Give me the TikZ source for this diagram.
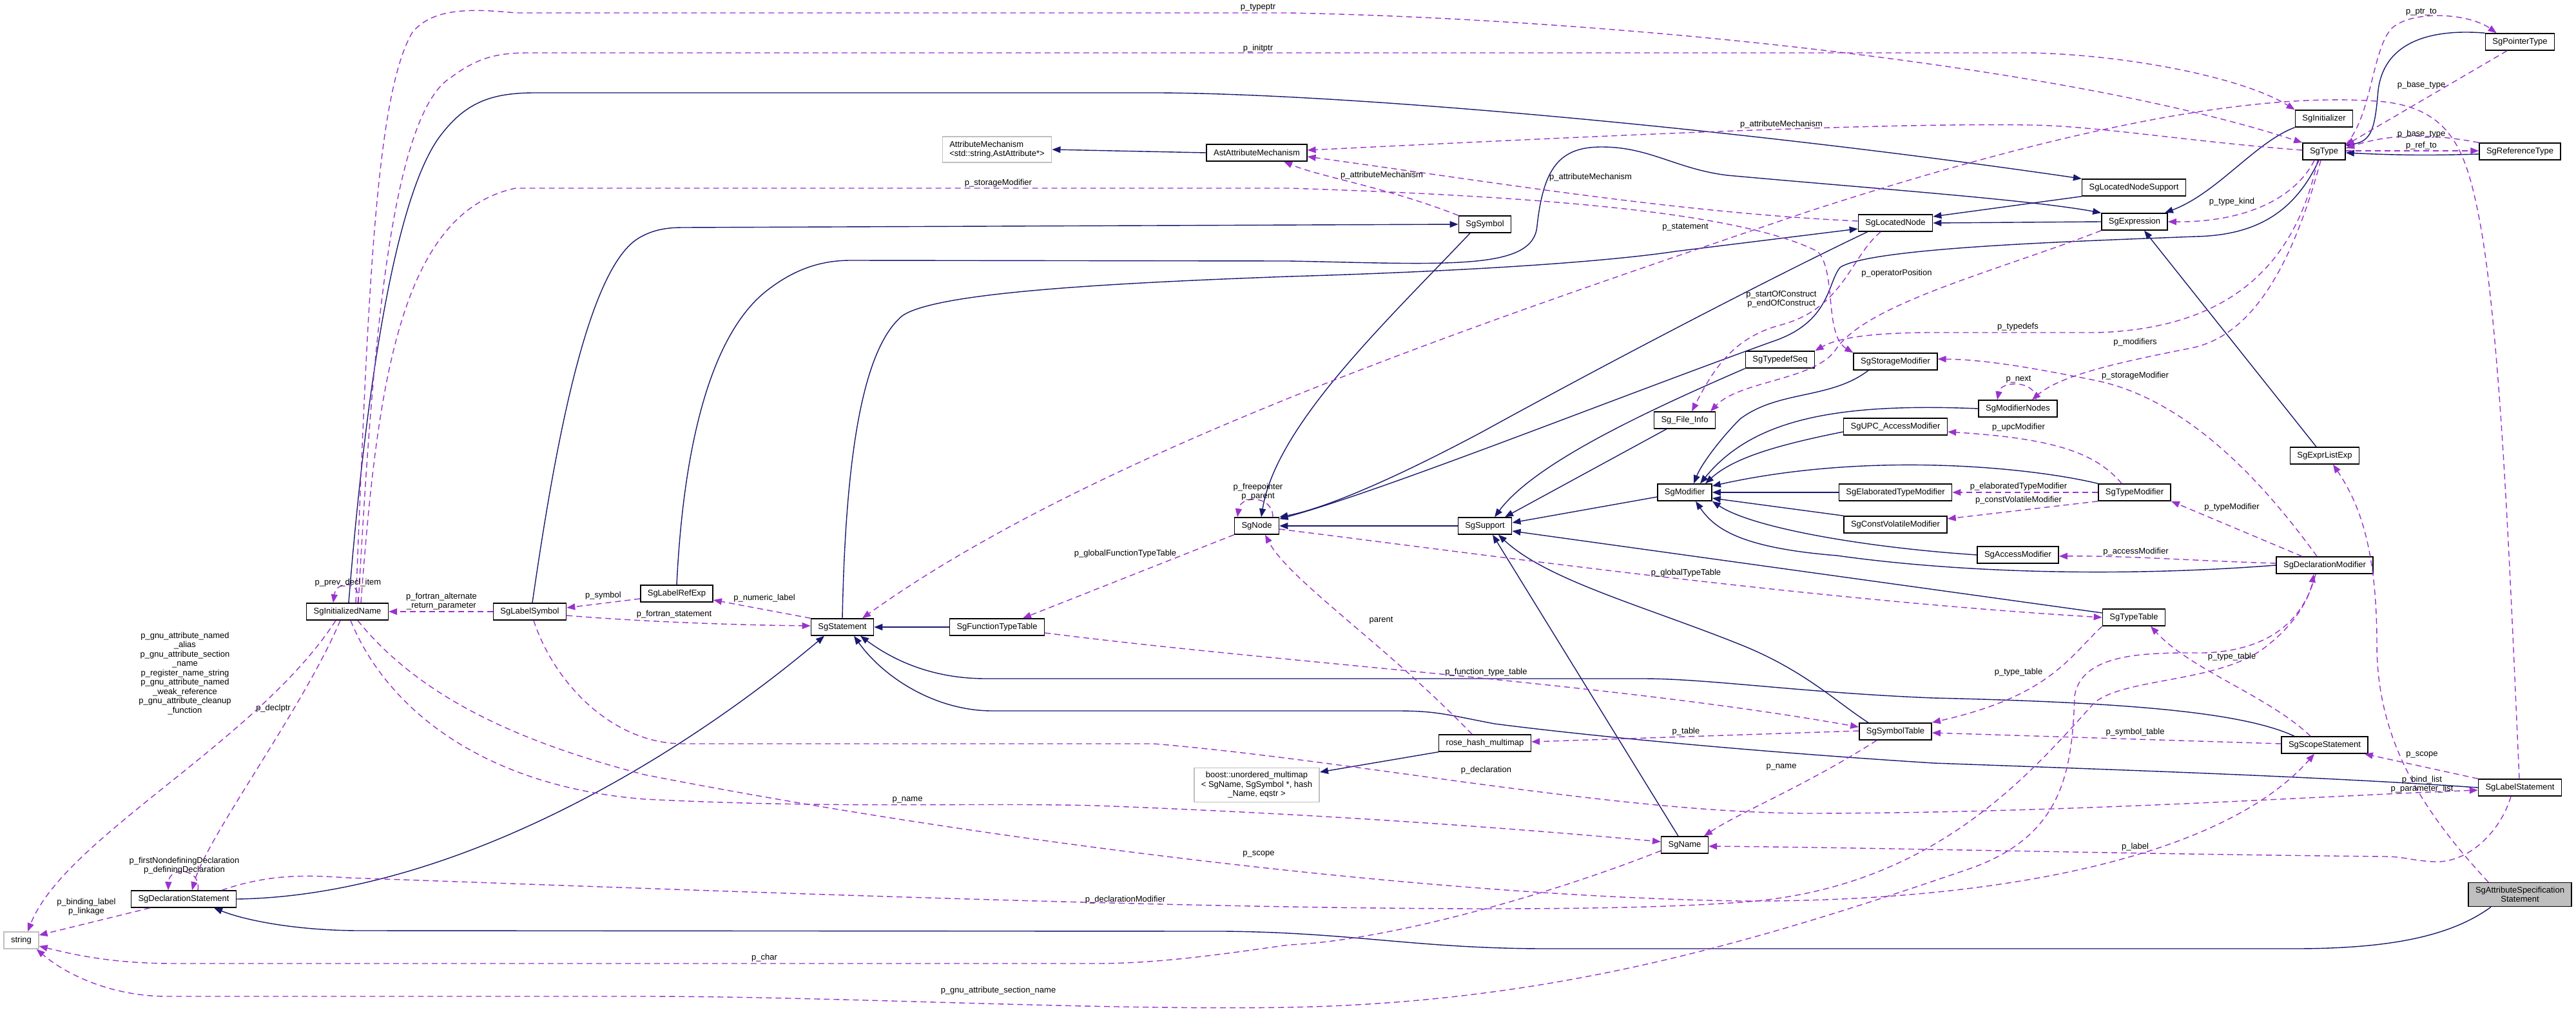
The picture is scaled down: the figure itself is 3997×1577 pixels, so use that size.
\documentclass[tikz,border=0pt]{standalone}
\usepackage{fontspec}
\setmainfont{Liberation Sans}
\usetikzlibrary{arrows.meta}
\definecolor{inhc}{HTML}{191970}
\definecolor{usec}{HTML}{9A32CD}
\definecolor{extgray}{HTML}{BFBFBF}
\newcommand\dfont{\fontsize{13pt}{14.5pt}\selectfont}
\tikzset{
 cls/.style={draw=black, line width=1.5pt, fill=white, minimum height=26pt, inner xsep=11pt, inner ysep=3pt, font=\dfont, align=center},
 extcls/.style={cls, draw=extgray},
 maincls/.style={cls, fill=extgray},
 inhe/.style={draw=inhc, line width=1.4pt, -{Triangle[length=13pt,width=10pt]}},
 usee/.style={draw=usec, line width=1.4pt, dash pattern=on 9pt off 6pt, -{Triangle[length=13pt,width=10pt]}},
 elab/.style={font=\dfont, align=center, inner sep=0pt, text=black},
}
\begin{document}
\begin{tikzpicture}[x=1pt,y=-1pt]
\useasboundingbox (0,0) rectangle (3997,1577);
\fill[white] (0,0) rectangle (3997,1577);
% nodes
\node[cls] (PT) at (3910,65) {SgPointerType};
\node[cls] (Ini) at (3606,184) {SgInitializer};
\node[cls] (Ty) at (3606,235) {SgType};
\node[cls] (RT) at (3910,235) {SgReferenceType};
\node[cls] (LNS) at (3311,291) {SgLocatedNodeSupport};
\node[cls] (Ex) at (3312,344) {SgExpression};
\node[extcls, align=left, inner ysep=6.5pt] (AM) at (1547,232) {AttributeMechanism\\<std::string,AstAttribute*>};
\node[cls] (AAM) at (1950,237) {AstAttributeMechanism};
\node[cls] (Sym) at (2304,348) {SgSymbol};
\node[cls] (LN) at (2941,346) {SgLocatedNode};
\node[cls] (TDS) at (2762,558) {SgTypedefSeq};
\node[cls] (SM) at (2941,561) {SgStorageModifier};
\node[cls] (FI) at (2614,652) {Sg\_File\_Info};
\node[cls] (UPC) at (2941,662) {SgUPC\_AccessModifier};
\node[cls] (MN) at (3131,634) {SgModifierNodes};
\node[cls] (Mod) at (2614,764) {SgModifier};
\node[cls] (ETM) at (2941,764) {SgElaboratedTypeModifier};
\node[cls] (TM) at (3312,764) {SgTypeModifier};
\node[cls] (CVM) at (2941,814) {SgConstVolatileModifier};
\node[cls] (Sup) at (2304,816) {SgSupport};
\node[cls] (Nd) at (1950,816) {SgNode};
\node[cls] (AccM) at (3131,861) {SgAccessModifier};
\node[cls] (DM) at (3607,877) {SgDeclarationModifier};
\node[cls] (ELE) at (3607,707) {SgExprListExp};
\node[cls] (TT) at (3311,958) {SgTypeTable};
\node[cls] (LRE) at (1050,921) {SgLabelRefExp};
\node[cls] (St) at (1307,973) {SgStatement};
\node[cls] (FTT) at (1547,973) {SgFunctionTypeTable};
\node[cls] (IN) at (539,949) {SgInitializedName};
\node[cls] (LS) at (822,949) {SgLabelSymbol};
\node[extcls] (Str) at (33,1459) {string};
\node[cls] (DS) at (285,1395) {SgDeclarationStatement};
\node[extcls, inner ysep=6pt] (BM) at (1950,1218) {boost::unordered\_multimap\\< SgName, SgSymbol *, hash\\\_Name, eqstr >};
\node[cls] (RHM) at (2304,1153) {rose\_hash\_multimap};
\node[cls] (SymT) at (2941,1135) {SgSymbolTable};
\node[cls] (Nm) at (2614,1311) {SgName};
\node[cls] (SS) at (3607,1156) {SgScopeStatement};
\node[cls] (LSt) at (3910,1222) {SgLabelStatement};
\node[maincls, inner ysep=6.5pt] (ASS) at (3910,1388) {SgAttributeSpecification\\Statement};

% inheritance
\draw[inhe] ([xshift=-45pt]ASS.south) .. controls (3800,1455) and (3700,1472) .. (3560,1472) -- (2400,1472) .. controls (2200,1472) and (2100,1447) .. (1900,1445) -- (560,1444) .. controls (460,1444) and (380,1428) .. ([xshift=47pt]DS.south);
\draw[inhe] (DS.east) .. controls (700,1390) and (1050,1180) .. ([xshift=-28pt]St.south);
\draw[inhe] ([xshift=-47pt]SS.north) .. controls (3480,1105) and (3300,1090) .. (3000,1083) .. controls (2800,1075) and (2650,1053) .. (2550,1053) -- (1530,1053) .. controls (1440,1053) and (1380,1020) .. ([xshift=28pt]St.south);
\draw[inhe] (LSt.west) .. controls (3600,1205) and (3300,1195) .. (3000,1184) .. controls (2700,1165) and (2450,1140) .. (2319,1123) .. controls (2250,1110) and (2230,1103) .. (2170,1103) -- (1540,1103) .. controls (1450,1103) and (1370,1050) .. ([xshift=18pt]St.south);
\draw[inhe] (FTT.west) -- (St.east);
\draw[inhe] (St.north) .. controls (1312,700) and (1340,540) .. (1400,490) .. controls (1450,455) and (1700,440) .. (2000,429) .. controls (2300,420) and (2500,405) .. (2600,390) -- ([yshift=-9pt]LN.west);
\draw[inhe] (LRE.north) .. controls (1060,700) and (1100,520) .. (1191,450) .. controls (1230,420) and (1270,404) .. (1320,404) -- (2000,405) .. controls (2250,410) and (2380,420) .. (2385,350) .. controls (2395,260) and (2420,228) .. (2485,228) .. controls (2560,228) and (2600,262) .. (2680,272) .. controls (2900,292) and (3150,310) .. (Ex.north west);
\draw[inhe] ([xshift=2pt]IN.north) .. controls (560,700) and (600,330) .. (680,215) .. controls (720,160) and (760,144) .. (830,144) -- (1800,144) .. controls (2100,146) and (2700,200) .. (LNS.north west);
\draw[inhe] ([xshift=4pt]LS.north) .. controls (860,700) and (910,420) .. (990,370) .. controls (1010,358) and (1030,353) .. (1060,353) -- (Sym.west);
\draw[inhe] ([xshift=-23pt]Sym.south) .. controls (2150,500) and (1980,660) .. ([xshift=7pt]Nd.north);
\draw[inhe] ([xshift=15pt]LN.south west) .. controls (2750,430) and (2500,560) .. (2300,670) .. controls (2150,750) and (2050,790) .. (Nd.north east);
\draw[inhe] ([xshift=-8pt]Ty.south) .. controls (3560,330) and (3500,365) .. (3407,367) .. controls (3200,375) and (2900,385) .. (2855,415) .. controls (2835,440) and (2840,500) .. (2750,530) .. controls (2500,620) and (2150,760) .. ([yshift=-3pt]Nd.north east);
\draw[inhe] (Sup.west) -- (Nd.east);
\draw[inhe] (LNS.south west) -- ([yshift=10pt]LN.east);
\draw[inhe] (Ex.west) -- (LN.east);
\draw[inhe] (Ini.south west) .. controls (3500,220) and (3440,300) .. ([xshift=-5pt]Ex.north east);
\draw[inhe] ([xshift=-13pt]ELE.north) -- ([xshift=15pt]Ex.south);
\draw[inhe] (PT.north west) .. controls (3780,45) and (3700,60) .. (3690,140) .. controls (3685,200) and (3680,218) .. ([yshift=9pt]Ty.east);
\draw[inhe] ([yshift=-4pt]RT.west) .. controls (3760,242) and (3700,240) .. ([yshift=-2pt]Ty.east);
\draw[inhe] (AAM.west) -- (AM.east);
\draw[inhe] (TDS.south west) .. controls (2550,640) and (2380,720) .. ([xshift=15pt]Sup.north);
\draw[inhe] ([xshift=20pt]FI.south west) -- ([xshift=31pt]Sup.north);
\draw[inhe] ([yshift=-7pt]Mod.west) -- ([yshift=5pt]Sup.east);
\draw[inhe] ([yshift=7pt]TT.west) -- ([yshift=-8pt]Sup.east);
\draw[inhe] ([xshift=-10pt]Nm.north) -- ([xshift=12pt]Sup.south);
\draw[inhe] ([xshift=-42pt]SymT.north) .. controls (2850,1090) and (2800,1040) .. (2700,1000) .. controls (2550,940) and (2400,900) .. ([xshift=21pt]Sup.south);
\draw[inhe] ([xshift=-42pt]SM.south) .. controls (2840,620) and (2760,605) .. (2700,650) .. controls (2670,680) and (2640,720) .. ([xshift=14pt]Mod.north);
\draw[inhe] (MN.west) .. controls (2850,625) and (2720,650) .. ([xshift=24pt]Mod.north);
\draw[inhe] ([yshift=-8pt]UPC.west) .. controls (2760,690) and (2690,710) .. ([xshift=32pt]Mod.north);
\draw[inhe] (TM.north west) .. controls (3150,725) and (2900,700) .. ([yshift=10pt]Mod.east);
\draw[inhe] (ETM.west) -- (Mod.east);
\draw[inhe] (CVM.north west) -- ([yshift=-9pt]Mod.east);
\draw[inhe] (AccM.west) .. controls (2900,850) and (2720,820) .. (Mod.south east);
\draw[inhe] (DM.west) .. controls (3300,895) and (3050,890) .. (2850,862) .. controls (2700,850) and (2660,820) .. ([xshift=17pt]Mod.south);
\draw[inhe] (RHM.south west) -- ([yshift=20pt]BM.east);

% usage
\draw[usee] ([xshift=13pt]IN.north) .. controls (570,500) and (580,150) .. (640,50) .. controls (670,15) and (720,12) .. (800,20) -- (2000,20) .. controls (2500,30) and (3200,100) .. (Ty.north west);
\node[elab] (l1) at (1952,12) {p\_typeptr};
\draw[usee] ([xshift=17pt]IN.north) .. controls (575,600) and (600,180) .. (700,120) .. controls (740,90) and (770,82) .. (820,82) -- (3150,82) .. controls (3300,85) and (3480,120) .. (Ini.north west);
\node[elab] (l2) at (1952,75) {p\_initptr};
\draw[usee] ([xshift=21pt]IN.north) .. controls (585,600) and (620,330) .. (800,292) -- (2000,292) .. controls (2400,305) and (2700,330) .. (2820,390) .. controls (2850,420) and (2830,520) .. (SM.north west);
\node[elab] (l3) at (1549,284) {p\_storageModifier};
\draw[usee] ([yshift=2pt]Ty.west) .. controls (3400,220) and (3250,195) .. (3150,194) .. controls (2900,190) and (2400,215) .. ([yshift=4pt]AAM.east);
\node[elab] (l4) at (2764,193) {p\_attributeMechanism};
\draw[usee] ([yshift=3pt]LN.west) .. controls (2600,330) and (2300,280) .. ([yshift=-6pt]AAM.east);
\node[elab] (l5) at (2468,275) {p\_attributeMechanism};
\draw[usee] (Sym.north west) .. controls (2150,290) and (2050,275) .. ([xshift=42pt]AAM.south);
\node[elab] (l6) at (2144,272) {p\_attributeMechanism};
\draw[usee] ([xshift=-1pt]LSt.north) .. controls (3895,900) and (3880,500) .. (3845,330) .. controls (3825,230) and (3800,170) .. (3700,158) .. controls (3500,140) and (3200,200) .. (2800,330) .. controls (2300,500) and (1700,700) .. ([xshift=31pt]St.north);
\node[elab] (l7) at (2615,353) {p\_statement};
\draw[usee] (St.north west) -- ([yshift=-10pt]LRE.east);
\node[elab] (l8) at (1186,928) {p\_numeric\_label};
\draw[usee] ([yshift=-6pt]LS.east) .. controls (1000,965) and (1150,970) .. ([yshift=2pt]St.west);
\node[elab] (l9) at (1046,953) {p\_fortran\_statement};
\draw[usee] ([yshift=-8pt]LRE.west) -- ([yshift=6pt]LS.east);
\node[elab] (l10) at (936,924) {p\_symbol};
\draw[usee] (LS.west) -- (IN.east);
\node[elab] (l11) at (685,933) {p\_fortran\_alternate\\\_return\_parameter};
\draw[usee] ([xshift=16pt]IN.north) .. controls (562,900) and (522,900) .. ([xshift=-22pt]IN.north);
\node[elab] (l12) at (540,904) {p\_prev\_decl\_item};
\draw[usee] ([xshift=-11pt]IN.south) .. controls (470,1100) and (320,1300) .. ([xshift=13pt]DS.north);
\node[elab] (l13) at (424,1099) {p\_declptr};
\draw[usee] ([xshift=22pt]DS.north) .. controls (312,1345) and (262,1345) .. ([xshift=-24pt]DS.north);
\node[elab] (l14) at (286,1343) {p\_firstNondefiningDeclaration\\p\_definingDeclaration};
\draw[usee] ([xshift=-18pt]IN.south) .. controls (400,1150) and (100,1300) .. ([xshift=10pt]Str.north);
\node[elab] (l15) at (287,1045) {p\_gnu\_attribute\_named\\\_alias\\p\_gnu\_attribute\_section\\\_name\\p\_register\_name\_string\\p\_gnu\_attribute\_named\\\_weak\_reference\\p\_gnu\_attribute\_cleanup\\\_function};
\draw[usee] ([xshift=30pt]DS.south west) -- ([yshift=8pt]Str.east);
\node[elab] (l16) at (134,1407) {p\_binding\_label\\p\_linkage};
\draw[usee] ([xshift=16pt]IN.south) .. controls (650,1080) and (800,1150) .. (1000,1202) .. controls (1500,1300) and (2200,1390) .. (2700,1398) .. controls (3100,1400) and (3450,1330) .. ([xshift=-16pt]SS.south);
\node[elab] (l17) at (1953,1325) {p\_scope};
\draw[usee] ([xshift=5pt]IN.south) .. controls (600,1100) and (750,1220) .. (1000,1240) .. controls (1300,1255) and (1500,1245) .. (1700,1250) .. controls (2100,1265) and (2400,1290) .. ([yshift=5pt]Nm.west);
\node[elab] (l18) at (1408,1241) {p\_name};
\draw[usee] ([xshift=6pt]LS.south) .. controls (860,1060) and (950,1154) .. (1060,1154) -- (1790,1154) .. controls (2100,1180) and (2500,1260) .. (2800,1262) .. controls (3200,1262) and (3600,1235) .. ([yshift=-4pt]LSt.west);
\node[elab] (l19) at (2306,1195) {p\_declaration};
\draw[usee] ([xshift=-14pt]LSt.south) .. controls (3880,1290) and (3830,1340) .. (3776,1337) .. controls (3740,1335) and (3730,1329) .. (3700,1329) .. controls (3300,1325) and (2900,1315) .. ([yshift=-2pt]Nm.east);
\node[elab] (l20) at (3313,1314) {p\_label};
\draw[usee] (LSt.north west) -- ([xshift=-6pt]SS.south east);
\node[elab] (l21) at (3758,1171) {p\_scope};
\draw[usee] ([xshift=-49pt]ASS.north) .. controls (3760,1260) and (3688,1150) .. (3688,1000) .. controls (3688,850) and (3660,780) .. ([xshift=13pt]ELE.south);
\node[elab] (l22) at (3758,1217) {p\_bind\_list\\p\_parameter\_list};
\draw[usee] ([xshift=59pt]DS.north) .. controls (420,1355) and (480,1358) .. (540,1362) .. controls (1200,1385) and (2300,1430) .. (2700,1400) .. controls (3000,1380) and (3150,1200) .. (3250,1090) .. controls (3300,1050) and (3450,1060) .. (3520,1000) .. controls (3570,960) and (3585,920) .. ([xshift=-17pt]DM.south);
\node[elab] (l23) at (1746,1396) {p\_declarationModifier};
\draw[usee] ([xshift=-14pt]DM.south) .. controls (3570,980) and (3500,1010) .. (3420,1013) .. controls (3340,1013) and (3230,1010) .. (3219,1080) .. controls (3215,1200) and (3200,1300) .. (3050,1350) .. controls (2700,1470) and (2400,1555) .. (2000,1563) .. controls (1700,1568) and (1300,1546) .. (1000,1546) -- (260,1546) .. controls (170,1546) and (100,1510) .. ([xshift=-4pt]Str.south east);
\node[elab] (l24) at (1549,1537) {p\_gnu\_attribute\_section\_name};
\draw[usee] ([yshift=-9pt]Nm.west) .. controls (2400,1390) and (2150,1460) .. (2000,1466) .. controls (1900,1480) and (1800,1495) .. (1700,1495) -- (270,1495) .. controls (170,1495) and (110,1480) .. ([yshift=-9pt]Str.east);
\node[elab] (l25) at (1186,1486) {p\_char};
\draw[usee] ([xshift=-12pt]DM.north) .. controls (3520,760) and (3400,620) .. (3250,590) .. controls (3150,570) and (3080,558) .. ([yshift=4pt]SM.east);
\node[elab] (l26) at (3313,583) {p\_storageModifier};
\draw[usee] ([xshift=-35pt]DM.north) -- (TM.south east);
\node[elab] (l27) at (3463,787) {p\_typeModifier};
\draw[usee] ([yshift=3pt]DM.west) .. controls (3400,870) and (3300,862) .. ([yshift=-2pt]AccM.east);
\node[elab] (l28) at (3314,856) {p\_accessModifier};
\draw[usee] ([xshift=-20pt]TM.north) .. controls (3250,700) and (3180,680) .. ([yshift=-8pt]UPC.east);
\node[elab] (l29) at (3132,663) {p\_upcModifier};
\draw[usee] (TM.west) -- (ETM.east);
\node[elab] (l30) at (3132,755) {p\_elaboratedTypeModifier};
\draw[usee] (TM.south west) -- ([yshift=9pt]CVM.east);
\node[elab] (l31) at (3132,776) {p\_constVolatileModifier};
\draw[usee] ([xshift=-5pt]Ty.south) .. controls (3560,400) and (3500,520) .. (3400,540) .. controls (3300,560) and (3200,580) .. ([xshift=22pt]MN.north);
\node[elab] (l32) at (3313,531) {p\_modifiers};
\draw[usee] ([xshift=28pt]MN.north) .. controls (3160,590) and (3105,590) .. ([xshift=-32pt]MN.north);
\node[elab] (l33) at (3132,589) {p\_next};
\draw[usee] ([xshift=-10pt]Ty.south) .. controls (3560,420) and (3450,510) .. (3254,516) -- (3000,516) .. controls (2900,516) and (2850,525) .. (TDS.north east);
\node[elab] (l34) at (3131,507) {p\_typedefs};
\draw[usee] ([xshift=-15pt]Ty.south) .. controls (3560,310) and (3480,345) .. (Ex.east);
\node[elab] (l35) at (3463,313) {p\_type\_kind};
\draw[usee] ([yshift=-3pt]Ty.north east) .. controls (3680,180) and (3680,80) .. (3710,45) .. controls (3740,15) and (3830,20) .. ([xshift=18pt]PT.north west);
\node[elab] (l36) at (3757,19) {p\_ptr\_to};
\draw[usee] ([xshift=-20pt]PT.south) -- ([yshift=10pt]Ty.east);
\node[elab] (l37) at (3757,132) {p\_base\_type};
\draw[usee] (RT.north west) .. controls (3760,205) and (3700,210) .. ([yshift=5pt]Ty.east);
\node[elab] (l38) at (3757,208) {p\_base\_type};
\draw[usee] ([yshift=1pt]Ty.east) -- ([yshift=1pt]RT.west);
\node[elab] (l39) at (3757,226) {p\_ref\_to};
\draw[usee] ([xshift=-23pt]LN.south) .. controls (2870,400) and (2860,480) .. (2760,505) .. controls (2690,525) and (2660,570) .. ([xshift=11pt]FI.north);
\node[elab] (l40) at (2764,464) {p\_startOfConstruct\\p\_endOfConstruct};
\draw[usee] (Ex.south west) .. controls (3100,420) and (2900,470) .. (2850,540) .. controls (2820,590) and (2700,590) .. ([xshift=40pt]FI.north);
\node[elab] (l41) at (2943,424) {p\_operatorPosition};
\draw[usee] ([xshift=25pt]Nd.north) .. controls (1975,768) and (1925,768) .. ([xshift=-30pt]Nd.north);
\node[elab] (l42) at (1952,763) {p\_freepointer\\p\_parent};
\draw[usee] (Nd.south west) -- ([xshift=40pt]FTT.north);
\node[elab] (l43) at (1746,859) {p\_globalFunctionTypeTable};
\draw[usee] ([yshift=-5pt]Nd.east) .. controls (2300,860) and (2800,930) .. (TT.west);
\node[elab] (l44) at (2616,889) {p\_globalTypeTable};
\draw[usee] ([xshift=-20pt]RHM.north) .. controls (2150,1000) and (2000,900) .. ([xshift=13pt]Nd.south);
\node[elab] (l45) at (2143,963) {parent};
\draw[usee] ([yshift=-9pt]FTT.east) .. controls (2000,1030) and (2500,1060) .. ([yshift=7pt]SymT.west);
\node[elab] (l46) at (2306,1043) {p\_function\_type\_table};
\draw[usee] ([yshift=1pt]SymT.west) -- ([yshift=2pt]RHM.east);
\node[elab] (l47) at (2616,1135) {p\_table};
\draw[usee] ([xshift=-29pt]SymT.south) .. controls (2800,1220) and (2700,1260) .. ([xshift=30pt]Nm.north);
\node[elab] (l48) at (2764,1190) {p\_name};
\draw[usee] (TT.south west) .. controls (3210,1020) and (3180,1080) .. ([yshift=14pt]SymT.east);
\node[elab] (l49) at (3132,1043) {p\_type\_table};
\draw[usee] ([yshift=2pt]SS.west) -- ([yshift=-2pt]SymT.east);
\node[elab] (l50) at (3313,1136) {p\_symbol\_table};
\draw[usee] ([xshift=-22pt]SS.north) .. controls (3520,1080) and (3400,1040) .. ([xshift=26pt]TT.south);
\node[elab] (l51) at (3463,1019) {p\_type\_table};
\end{tikzpicture}
\end{document}
